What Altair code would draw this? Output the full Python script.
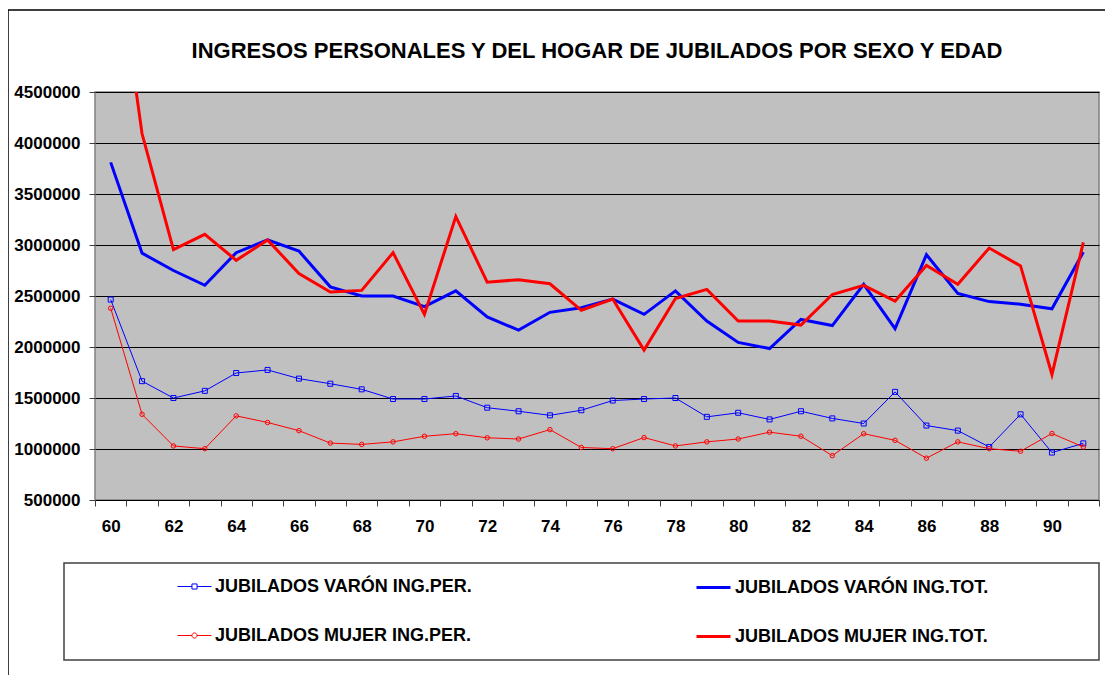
import altair as alt
import pandas as pd

# ---- data ----
edades = [60, 61, 62, 63, 64, 65, 66, 67, 68, 69, 70, 71, 72, 73, 74, 75,
          76, 77, 78, 79, 80, 81, 82, 83, 84, 85, 86, 87, 88, 89, 90, 91]

varon_per = [2465000, 1665000, 1500000, 1570000, 1745000, 1775000, 1690000, 1640000,
             1585000, 1490000, 1490000, 1520000, 1405000, 1370000, 1330000, 1380000,
             1475000, 1490000, 1500000, 1315000, 1355000, 1290000, 1370000, 1300000,
             1250000, 1560000, 1230000, 1180000, 1020000, 1340000, 965000, 1055000]

varon_tot = [3810000, 2920000, 2750000, 2605000, 2925000, 3050000, 2940000, 2590000,
             2500000, 2500000, 2395000, 2550000, 2295000, 2165000, 2340000, 2385000,
             2470000, 2320000, 2550000, 2255000, 2045000, 1985000, 2270000, 2210000,
             2615000, 2180000, 2905000, 2525000, 2445000, 2420000, 2375000, 2930000]

mujer_per = [2380000, 1340000, 1030000, 1003000, 1325000, 1260000, 1180000, 1058000,
             1045000, 1070000, 1125000, 1150000, 1110000, 1098000, 1190000, 1015000,
             1003000, 1112000, 1030000, 1070000, 1098000, 1165000, 1125000, 935000,
             1150000, 1085000, 910000, 1070000, 1003000, 978000, 1152000, 1020000]

mujer_tot = [6300000, 4090000, 2955000, 3105000, 2850000, 3050000, 2720000, 2540000,
             2555000, 2925000, 2320000, 3280000, 2635000, 2660000, 2620000, 2360000,
             2470000, 1970000, 2475000, 2565000, 2255000, 2255000, 2215000, 2515000,
             2605000, 2450000, 2800000, 2615000, 2970000, 2795000, 1730000, 3025000]

series_names = ["JUBILADOS VARÓN ING.PER.", "JUBILADOS VARÓN ING.TOT.",
                "JUBILADOS MUJER ING.PER.", "JUBILADOS MUJER ING.TOT."]
series_colors = ["#0000FF", "#0000FF", "#FF0000", "#FF0000"]
y_ticks = [500000, 1000000, 1500000, 2000000, 2500000, 3000000, 3500000, 4000000, 4500000]

title_text = "INGRESOS PERSONALES Y DEL HOGAR DE JUBILADOS POR SEXO Y EDAD"

FONT = "Liberation Sans"
W, H = 1004, 408
PAD_L, PAD_T = 87, 84
PAD_R, PAD_B = 6, 175

x_enc = alt.X(
    "edad:O",
    scale=alt.Scale(type="band", paddingInner=0, paddingOuter=0),
    bandPosition=0.5,
    axis=alt.Axis(
        title=None, labelAngle=0, tickBand="extent", tickSize=6, tickColor="#404040",
        labelExpr="datum.value % 2 == 0 ? datum.label : ''",
        labelFont=FONT, labelFontSize=17, labelFontWeight="bold", labelColor="#000000",
        labelPadding=12, domain=False, grid=False,
    ),
)
y_enc = alt.Y(
    "valor:Q",
    scale=alt.Scale(domain=[500000, 4500000], nice=False, zero=False),
    axis=alt.Axis(
        title=None, values=y_ticks, format="d", tickSize=6, tickColor="#404040",
        labelFont=FONT, labelFontSize=17, labelFontWeight="bold", labelColor="#000000",
        labelPadding=9, domain=False, grid=True, gridColor="#000000", gridWidth=1,
    ),
)

SQUARE = "M-1,0H-0.15M0.15,0H1M-0.15,-0.15H0.15V0.15H-0.15Z"
CIRCLE = "M-1,0H-0.15M0.15,0H1M-0.15,0A0.15,0.15,0,1,1,0.15,0A0.15,0.15,0,1,1,-0.15,0Z"

legend_pos = [(82, 477), (600, 477), (82, 526), (600, 526)]
legend_sym = [SQUARE, "stroke", CIRCLE, "stroke"]
legend_sw = [1, 3, 1, 3]
values_list = [varon_per, varon_tot, mujer_per, mujer_tot]
point_shapes = ["square", None, "circle", None]
point_sizes = [25, None, 20, None]


def series_layer(i):
    df = pd.DataFrame({"edad": edades, "valor": values_list[i], "serie": series_names[i]})
    lx, ly = legend_pos[i]
    color = alt.Color(
        "serie:N",
        scale=alt.Scale(domain=[series_names[i]], range=[series_colors[i]]),
        legend=alt.Legend(
            title=None, orient="none", legendX=lx, legendY=ly, padding=0,
            symbolType=legend_sym[i], symbolSize=1156, symbolStrokeWidth=legend_sw[i],
            symbolFillColor="transparent",
            labelFont=FONT, labelFontSize=18, labelFontWeight="bold", labelColor="#000000",
            labelOffset=3, labelLimit=0,
        ),
    )
    if point_shapes[i]:
        mark = alt.Chart(df).mark_line(
            strokeWidth=1, clip=True,
            point=alt.OverlayMarkDef(shape=point_shapes[i], filled=False,
                                     size=point_sizes[i], strokeWidth=1),
        )
    else:
        mark = alt.Chart(df).mark_line(strokeWidth=3, clip=True)
    return mark.encode(x=x_enc, y=y_enc, color=color)


one = alt.Data(values=[{"k": 0}])

frame = alt.Chart(one).mark_rect(fillOpacity=0, stroke="#000000", strokeWidth=1.5).encode(
    x=alt.value(-PAD_L), x2=alt.value(W + 200), y=alt.value(-82), y2=alt.value(H + 300)
)
legend_box = alt.Chart(one).mark_rect(fillOpacity=0, stroke="#404040", strokeWidth=1.5).encode(
    x=alt.value(-31), x2=alt.value(W), y=alt.value(471), y2=alt.value(568)
)
title = alt.Chart(one).mark_text(
    font=FONT, fontSize=22, fontWeight="bold", color="#000000",
    align="center", baseline="alphabetic",
).encode(x=alt.value(W / 2), y=alt.value(-34), text=alt.value(title_text))

chart = (
    alt.layer(frame, legend_box, title, *[series_layer(i) for i in range(4)])
    .resolve_scale(color="independent")
    .properties(
        width=W, height=H,
        autosize=alt.AutoSizeParams(type="none"),
        padding={"left": PAD_L, "top": PAD_T, "right": PAD_R, "bottom": PAD_B},
        background="#FFFFFF",
    )
    .configure_view(fill="#C0C0C0", stroke="#808080", strokeWidth=1.5)
)

chart.save("out.html", embed_options={"renderer": "svg", "actions": False})
